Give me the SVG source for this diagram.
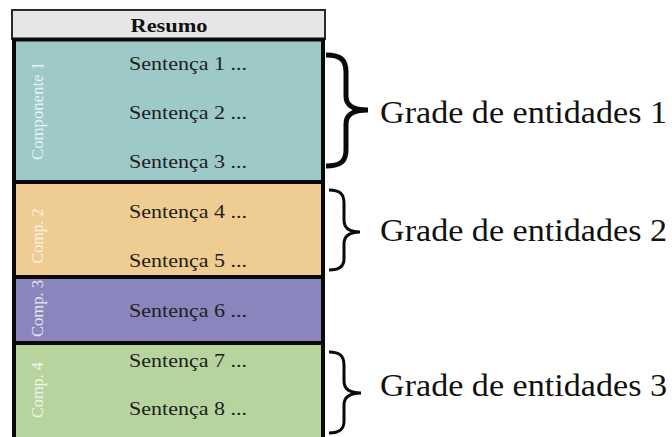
<svg xmlns="http://www.w3.org/2000/svg" width="672" height="437" viewBox="0 0 672 437">
  <style>
    .sent { font-family: "Liberation Serif", "Times New Roman", serif; font-size: 19px; fill: #1e1e1e; }
    .side { font-family: "Liberation Serif", "Times New Roman", serif; font-size: 16px; fill: #ffffff; fill-opacity: 0.8; text-anchor: middle; }
    .grade { font-family: "Liberation Serif", "Times New Roman", serif; font-size: 31px; fill: #111111; }
    .block { stroke: #0a0a0a; stroke-width: 4; }
    .brace { fill: none; stroke: #0a0a0a; stroke-linecap: butt; stroke-linejoin: miter; }
  </style>
  <rect width="672" height="437" fill="#ffffff"/>

  <!-- header -->
  <g id="resumo">
    <rect x="12" y="10" width="313" height="29" fill="#e6e6e6" stroke="#2a2a2a" stroke-width="2"/>
    <text x="169" y="31.5" text-anchor="middle" textLength="77" lengthAdjust="spacingAndGlyphs" style="font-family: 'Liberation Serif', 'Times New Roman', serif; font-size: 19px; font-weight: bold; fill: #111111;">Resumo</text>
  </g>

  <!-- component blocks -->
  <g id="componente1">
    <rect class="block" x="14" y="39.5" width="309" height="142.5" fill="#9dc9c9"/>
    <text class="side" transform="translate(42.5,111) rotate(-90)" textLength="98" lengthAdjust="spacingAndGlyphs">Componente 1</text>
    <text class="sent" x="129" y="70" textLength="118" lengthAdjust="spacingAndGlyphs">Sentença 1 ...</text>
    <text class="sent" x="129" y="119" textLength="118" lengthAdjust="spacingAndGlyphs">Sentença 2 ...</text>
    <text class="sent" x="129" y="167.5" textLength="118" lengthAdjust="spacingAndGlyphs">Sentença 3 ...</text>
  </g>
  <g id="componente2">
    <rect class="block" x="14" y="182" width="309" height="95" fill="#efcc92"/>
    <text class="side" transform="translate(42.5,236) rotate(-90)" textLength="55" lengthAdjust="spacingAndGlyphs">Comp. 2</text>
    <text class="sent" x="129" y="218" textLength="118" lengthAdjust="spacingAndGlyphs">Sentença 4 ...</text>
    <text class="sent" x="129" y="267" textLength="118" lengthAdjust="spacingAndGlyphs">Sentença 5 ...</text>
  </g>
  <g id="componente3">
    <rect class="block" x="14" y="277" width="309" height="66" fill="#8b85bd"/>
    <text class="side" transform="translate(42.5,308.5) rotate(-90)" textLength="57" lengthAdjust="spacingAndGlyphs">Comp. 3</text>
    <text class="sent" x="129" y="317" textLength="118" lengthAdjust="spacingAndGlyphs">Sentença 6 ...</text>
  </g>
  <g id="componente4">
    <rect class="block" x="14" y="343" width="309" height="100" fill="#b8d49e"/>
    <text class="side" transform="translate(42.5,390) rotate(-90)" textLength="56" lengthAdjust="spacingAndGlyphs">Comp. 4</text>
    <text class="sent" x="129" y="366.5" textLength="118" lengthAdjust="spacingAndGlyphs">Sentença 7 ...</text>
    <text class="sent" x="129" y="415" textLength="118" lengthAdjust="spacingAndGlyphs">Sentença 8 ...</text>
  </g>

  <!-- curly braces grouping sentences -->
  <g id="connectors">
    <path class="brace" stroke-width="5" d="M326,55 C341,55 346,60 346,72 L346,96 C346,105 352,110 368,110 C352,110 346,115 346,124 L346,150 C346,161 341,166 326,166"/>
    <path class="brace" stroke-width="3" d="M329,190 C340,190 344,194 344,203 L344,220 C344,227 348,232 360,232 C348,232 344,237 344,244 L344,259 C344,266 340,270 329,270"/>
    <path class="brace" stroke-width="3" d="M329,352 C340,352 344,356 344,365 L344,381 C344,388 348,393 361,393 C348,393 344,398 344,405 L344,421 C344,429 340,433 329,433"/>
  </g>

  <g id="grade1">
    <text class="grade" x="380" y="123" textLength="287" lengthAdjust="spacingAndGlyphs">Grade de entidades 1</text>
  </g>
  <g id="grade2">
    <text class="grade" x="380" y="241" textLength="287" lengthAdjust="spacingAndGlyphs">Grade de entidades 2</text>
  </g>
  <g id="grade3">
    <text class="grade" x="380" y="396" textLength="287" lengthAdjust="spacingAndGlyphs">Grade de entidades 3</text>
  </g>
</svg>
